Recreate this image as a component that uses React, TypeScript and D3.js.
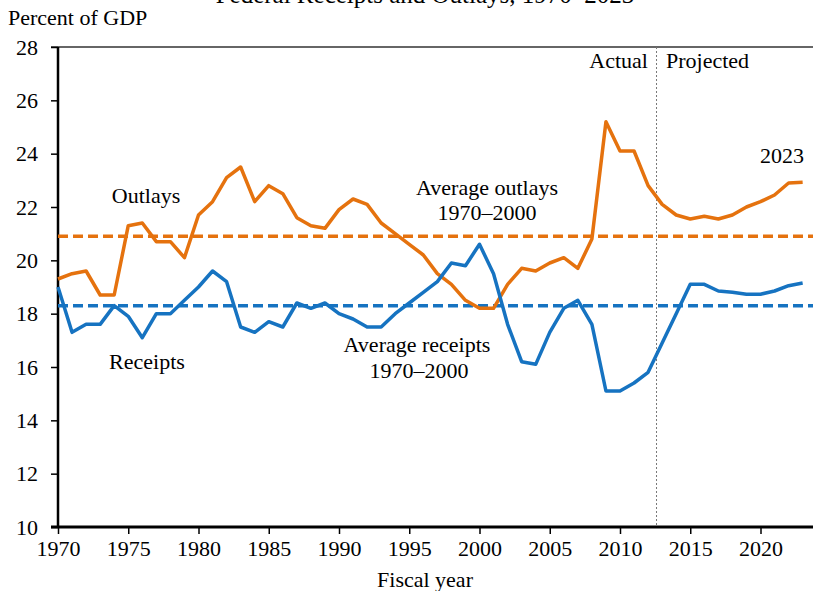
import React, { useRef, useEffect } from 'react';
import * as d3 from 'd3';

const years = d3.range(1970, 2024);

const outlays = [
  19.3, 19.5, 19.6, 18.7, 18.7, 21.3, 21.4, 20.7, 20.7, 20.1,
  21.7, 22.2, 23.1, 23.5, 22.2, 22.8, 22.5, 21.6, 21.3, 21.2,
  21.9, 22.3, 22.1, 21.4, 21.0, 20.6, 20.2, 19.5, 19.1, 18.5,
  18.2, 18.2, 19.1, 19.7, 19.6, 19.9, 20.1, 19.7, 20.8, 25.2,
  24.1, 24.1, 22.8, 22.1, 21.7, 21.55, 21.65, 21.55, 21.7, 22.0,
  22.2, 22.45, 22.9, 22.93,
];

const receipts = [
  19.0, 17.3, 17.6, 17.6, 18.3, 17.9, 17.1, 18.0, 18.0, 18.5,
  19.0, 19.6, 19.2, 17.5, 17.3, 17.7, 17.5, 18.4, 18.2, 18.4,
  18.0, 17.8, 17.5, 17.5, 18.0, 18.4, 18.8, 19.2, 19.9, 19.8,
  20.6, 19.5, 17.6, 16.2, 16.1, 17.3, 18.2, 18.5, 17.6, 15.1,
  15.1, 15.4, 15.8, 16.9, 18.0, 19.1, 19.1, 18.85, 18.8, 18.73,
  18.73, 18.85, 19.05, 19.15,
];

const avgOutlays = 20.9;
const avgReceipts = 18.3;
const projectionStart = 2012.6;

const yTicks = d3.range(10, 29, 2);
const xTicks = d3.range(1970, 2021, 5);

const ORANGE = '#e5720e';
const BLUE = '#1673c1';
const FONT = "'Liberation Serif', 'DejaVu Serif', serif";

const App = () => {
  const svgRef = useRef<SVGSVGElement>(null);
  const width = 813;
  const height = 591;

  useEffect(() => {
    const svg = d3.select(svgRef.current);
    svg.selectAll('*').remove();

    const left = 58, right = 813, top = 47, bottom = 527;

    const x = d3.scaleLinear().domain([1970, 2020]).range([left, 760.5]);
    const y = d3.scaleLinear().domain([10, 28]).range([bottom, top]);

    // title (cut off at the top in the original)
    svg.append('text')
      .attr('x', 425).attr('y', 3)
      .attr('text-anchor', 'middle')
      .style('font-family', FONT).style('font-size', '25px')
      .text('Federal Receipts and Outlays, 1970–2023');

    svg.append('text')
      .attr('x', 8).attr('y', 25)
      .style('font-family', FONT).style('font-size', '22px')
      .text('Percent of GDP');

    // top border
    svg.append('line')
      .attr('x1', left - 7).attr('x2', right)
      .attr('y1', top).attr('y2', top)
      .attr('stroke', '#666').attr('stroke-width', 2);

    // y axis
    const yAxis = d3.axisLeft(y).tickValues(yTicks).tickSize(7).tickPadding(13);
    const gy = svg.append('g').attr('transform', `translate(${left},0)`).call(yAxis);
    gy.select('.domain').remove();
    gy.selectAll('.tick line').attr('stroke', '#000').attr('stroke-width', 1.5);
    gy.selectAll('.tick text').style('font-family', FONT).style('font-size', '22px').attr('fill', '#000');
    svg.append('line')
      .attr('x1', left).attr('x2', left)
      .attr('y1', top).attr('y2', bottom)
      .attr('stroke', '#000').attr('stroke-width', 2.5);

    // x axis
    const xAxis = d3.axisBottom(x).tickValues(xTicks).tickSize(7).tickPadding(6).tickFormat(d3.format('d'));
    const gx = svg.append('g').attr('transform', `translate(0,${bottom})`).call(xAxis);
    gx.select('.domain').remove();
    gx.selectAll('.tick line').attr('stroke', '#000').attr('stroke-width', 1.5);
    gx.selectAll('.tick text').style('font-family', FONT).style('font-size', '22px').attr('fill', '#000');
    svg.append('line')
      .attr('x1', left - 7).attr('x2', right)
      .attr('y1', bottom).attr('y2', bottom)
      .attr('stroke', '#000').attr('stroke-width', 3);

    svg.append('text')
      .attr('x', 425).attr('y', 587)
      .attr('text-anchor', 'middle')
      .style('font-family', FONT).style('font-size', '22px')
      .text('Fiscal year');

    // actual / projected divider
    svg.append('line')
      .attr('x1', x(projectionStart)).attr('x2', x(projectionStart))
      .attr('y1', top).attr('y2', bottom)
      .attr('stroke', '#777').attr('stroke-width', 1)
      .attr('stroke-dasharray', '2,2');

    // average lines
    [[avgOutlays, ORANGE], [avgReceipts, BLUE]].forEach(([v, c]) => {
      svg.append('line')
        .attr('x1', left).attr('x2', right)
        .attr('y1', y(v as number)).attr('y2', y(v as number))
        .attr('stroke', c as string).attr('stroke-width', 3.5)
        .attr('stroke-dasharray', '10,5');
    });

    const line = d3.line<number>()
      .x((d, i) => x(years[i]))
      .y(d => y(d));

    svg.append('path').datum(outlays)
      .attr('d', line).attr('fill', 'none')
      .attr('stroke', ORANGE).attr('stroke-width', 3.5)
      .attr('stroke-linejoin', 'round');

    svg.append('path').datum(receipts)
      .attr('d', line).attr('fill', 'none')
      .attr('stroke', BLUE).attr('stroke-width', 3.5)
      .attr('stroke-linejoin', 'round');

    const labels: [string, number, number, string][] = [
      ['Outlays', 146, 203, 'middle'],
      ['Receipts', 147, 369, 'middle'],
      ['Average outlays', 487, 195, 'middle'],
      ['1970–2000', 487, 220, 'middle'],
      ['Average receipts', 417, 352, 'middle'],
      ['1970–2000', 419, 378, 'middle'],
      ['Actual', 648, 68, 'end'],
      ['Projected', 666, 68, 'start'],
      ['2023', 804, 163, 'end'],
    ];
    svg.selectAll('.lbl').data(labels).enter()
      .append('text')
      .attr('class', 'lbl')
      .attr('x', d => d[1]).attr('y', d => d[2])
      .attr('text-anchor', d => d[3])
      .style('font-family', FONT).style('font-size', '22px')
      .text(d => d[0]);
  }, []);

  return (
    <svg ref={svgRef} width={width} height={height}
      style={{ position: 'absolute', left: 0, top: 0, background: '#fff' }} />
  );
};

export default App;
